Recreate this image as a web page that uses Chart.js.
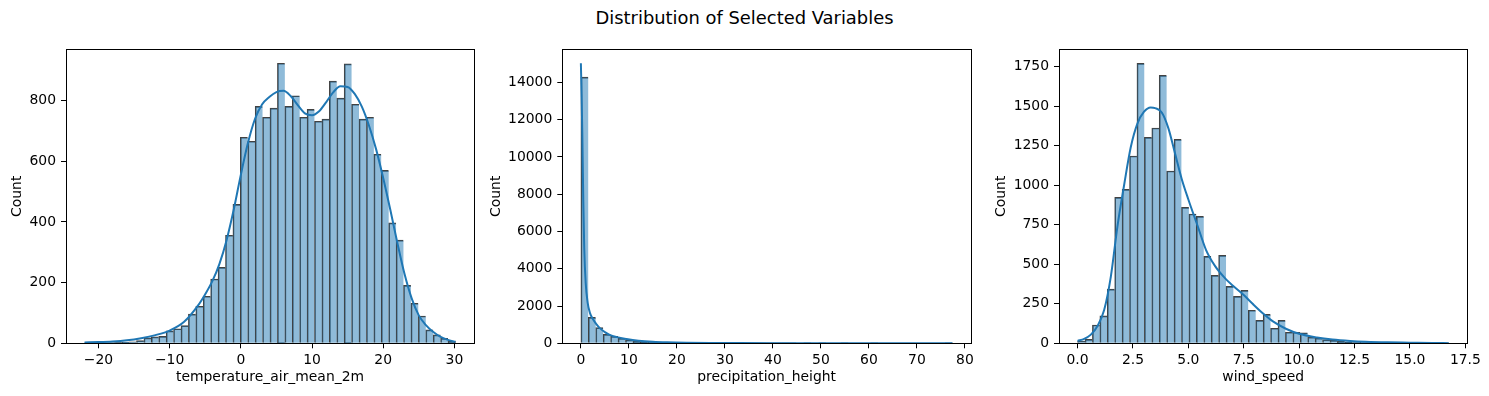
<!DOCTYPE html>
<html><head><meta charset="utf-8">
<script src="https://cdn.jsdelivr.net/npm/chart.js@4.4.1/dist/chart.umd.min.js"></script>
<style>
html,body{margin:0;padding:0;background:#fff;}
body{width:1489px;height:396px;position:relative;overflow:hidden;font-family:"DejaVu Sans",sans-serif;}
canvas{position:absolute;top:0;}
#title{position:absolute;left:0;width:1489px;text-align:center;top:9px;font-size:17.9px;line-height:18px;color:#000;white-space:nowrap;}
</style></head><body>
<div id="title">Distribution of Selected Variables</div>
<canvas id="c1" width="490" height="396" style="left:0px"></canvas>
<canvas id="c2" width="500" height="396" style="left:485px"></canvas>
<canvas id="c3" width="504" height="396" style="left:985px"></canvas>
<script>
// ---------- Panel 1: temperature_air_mean_2m ----------
const tempBinStart = -21.95;
const tempBinWidth = 1.042;
const tempCounts = [1,1,1,2,3,4,5,9,18,21,23,41,48,58,96,122,155,212,250,356,
  458,679,666,781,745,775,923,781,816,745,771,732,739,864,808,921,788,739,745,623,
  570,397,340,191,132,90,44,28,16,7];
const tempKdeX = [-21.95,-20,-18,-16,-14,-12,-10,-8,-6,-5,-4,-3,-2,-1,0,1,2,3,4,5,6,7,8,9,10,11,12,13,14,15,16,17,18,19,20,21,22,23,24,25,26,27,28,29,30.15];
const tempKdeY = [3,4,6,10,17,27,42,70,125,162,205,262,340,440,555,660,740,788,812,828,832,815,785,758,752,765,795,828,847,845,822,780,718,640,545,440,330,228,148,92,60,38,22,12,5];
const tempXTicks = [-20,-10,0,10,20,30];
const tempXTickLabels = ['\u221220','\u221210','0','10','20','30'];
const tempYTicks = [0,200,400,600,800];
const tempYTickLabels = ['0','200','400','600','800'];

// ---------- Panel 2: precipitation_height ----------
const precBinStart = 0;
const precBinWidth = 1.548;
const precCounts = [14290,1393,840,482,375,268,178,125,90,70,52,40,30,24,18,14,11,9,7,6,
  5,4,3,3,2,2,1,1,1,0,1,0,1,0,0,1,0,0,0,1,0,0,0,0,0,0,0,0,0,1];
const precKdeX = [0,0.15,0.3,0.5,0.7,1.0,1.4,1.9,2.6,3.3,4.0,5.0,6.0,7.5,9.5,12,15,18,22,27,33,40,50,60,70,77.4];
const precKdeY = [15030,13300,11200,7700,5100,3250,2200,1620,1260,1000,800,600,450,330,230,140,80,50,30,18,11,7,4,3,2,1];
const precXTicks = [0,10,20,30,40,50,60,70,80];
const precXTickLabels = ['0','10','20','30','40','50','60','70','80'];
const precYTicks = [0,2000,4000,6000,8000,10000,12000,14000];
const precYTickLabels = ['0','2000','4000','6000','8000','10000','12000','14000'];

// ---------- Panel 3: wind_speed ----------
const windBinStart = 0;
const windBinWidth = 0.335;
const windCounts = [14,25,116,173,343,923,974,1185,1771,1303,1362,1695,1090,1290,860,818,803,550,430,556,
  360,297,335,209,145,183,95,145,70,70,67,38,32,23,19,13,10,8,6,5,
  4,3,2,2,1,1,1,0,1,1];
const windKdeX = [0,0.3,0.6,0.9,1.2,1.5,1.8,2.1,2.4,2.7,3.0,3.3,3.5,3.8,4.1,4.4,4.7,5.0,5.4,5.8,6.2,6.6,7.0,7.5,7.9,8.4,8.8,9.4,10.0,10.8,11.5,12.3,13,14,15,16,16.75];
const windKdeY = [15,28,55,110,210,420,740,1000,1240,1390,1465,1492,1488,1460,1360,1200,1040,910,750,590,490,420,365,305,250,185,140,92,60,37,24,15,10,6,4,2,1];
const windXTicks = [0,2.5,5,7.5,10,12.5,15,17.5];
const windXTickLabels = ['0.0','2.5','5.0','7.5','10.0','12.5','15.0','17.5'];
const windYTicks = [0,250,500,750,1000,1250,1500,1750];
const windYTickLabels = ['0','250','500','750','1000','1250','1500','1750'];

// ---------- drawing ----------
Chart.defaults.font.family = '"DejaVu Sans", sans-serif';
const FONT = {family:'"DejaVu Sans", sans-serif', size:13.9, lineHeight:1.2};
const CANVAS_H = 396;
const AXIS_BOTTOM = 343.3;
const AXIS_TOP = 49.3;

const framePlugin = {
  id:'frame',
  afterDatasetsDraw(chart){
    const {ctx, chartArea:a} = chart;
    ctx.save();
    ctx.strokeStyle = '#000';
    ctx.lineWidth = 1;
    const l = Math.floor(a.left)+0.5, t = Math.floor(a.top)+0.5;
    const r = Math.floor(a.right)+0.5, b = Math.floor(a.bottom)+0.5;
    ctx.strokeRect(l, t, r-l, b-t);
    ctx.restore();
  }
};

function binCenters(start, width, n){
  const out = [];
  for (let i = 0; i < n; i++) out.push(start + width*(i+0.5));
  return out;
}

function histChart(id, p){
  const n = p.counts.length;
  const centers = binCenters(p.binStart, p.binWidth, n);
  const barData = centers.map((x,i)=>({x, y:p.counts[i]}));
  const lineData = p.kdeX.map((x,i)=>({x, y:p.kdeY[i]}));
  const xMin = p.binStart - 0.05*n*p.binWidth;
  const xMax = p.binStart + 1.05*n*p.binWidth;
  const grid = {display:true, drawOnChartArea:false, drawTicks:true, tickLength:5, tickWidth:1, tickColor:'#000', color:'#000', offset:false};
  return new Chart(document.getElementById(id), {
    type:'bar',
    data:{datasets:[
      {type:'line', data:lineData, borderColor:'#1f77b4', borderWidth:2, pointRadius:0, pointHoverRadius:0,
       cubicInterpolationMode:'monotone', fill:false, order:0},
      {type:'bar', data:barData, backgroundColor:'rgba(31,119,180,0.5)', borderColor:'rgba(45,45,45,0.9)',
       borderWidth: ctx => ({left:1, top:1, right: ctx.dataIndex === n-1 ? 1 : 0, bottom:0}),
       borderSkipped:false, barPercentage:1, categoryPercentage:1, grouped:false, order:1}
    ]},
    options:{
      responsive:false, animation:false, devicePixelRatio:1,
      layout:{padding:{left:0, top:AXIS_TOP, right:p.padRight, bottom:0}},
      plugins:{legend:{display:false}, tooltip:{enabled:false}, title:{display:false}},
      scales:{
        x:{type:'linear', min:xMin, max:xMax, offset:false,
          afterBuildTicks: s => { s.ticks = p.xTicks.map(v=>({value:v})); },
          afterFit: s => { s.height = CANVAS_H - AXIS_BOTTOM; },
          grid, border:{display:false},
          ticks:{color:'#000', font:FONT, padding:4, maxRotation:0, minRotation:0, autoSkip:false,
            callback:(v,i)=>p.xTickLabels[i]},
          title:{display:true, text:p.xTitle, color:'#000', font:FONT, padding:{top:0, bottom:10}}
        },
        y:{type:'linear', min:0, max:p.yMax,
          afterBuildTicks: s => { s.ticks = p.yTicks.map(v=>({value:v})); },
          afterFit: s => { s.width = p.yAxisW; },
          grid, border:{display:false},
          ticks:{color:'#000', font:FONT, padding:5, autoSkip:false,
            callback:(v,i)=>p.yTickLabels[i]},
          title:{display:true, text:'Count', color:'#000', font:FONT, padding:{top:p.yTitlePad, bottom:0}}
        }
      }
    },
    plugins:[framePlugin]
  });
}

histChart('c1', {binStart:tempBinStart, binWidth:tempBinWidth, counts:tempCounts, kdeX:tempKdeX, kdeY:tempKdeY,
  xTicks:tempXTicks, xTickLabels:tempXTickLabels, yTicks:tempYTicks, yTickLabels:tempYTickLabels,
  yMax:969, xTitle:'temperature_air_mean_2m', yAxisW:66, padRight:16, yTitlePad:9.5});
histChart('c2', {binStart:precBinStart, binWidth:precBinWidth, counts:precCounts, kdeX:precKdeX, kdeY:precKdeY,
  xTicks:precXTicks, xTickLabels:precXTickLabels, yTicks:precYTicks, yTickLabels:precYTickLabels,
  yMax:15780, xTitle:'precipitation_height', yAxisW:77.3, padRight:14, yTitlePad:2.9});
histChart('c3', {binStart:windBinStart, binWidth:windBinWidth, counts:windCounts, kdeX:windKdeX, kdeY:windKdeY,
  xTicks:windXTicks, xTickLabels:windXTickLabels, yTicks:windYTicks, yTickLabels:windYTickLabels,
  yMax:1860, xTitle:'wind_speed', yAxisW:74, padRight:21.7, yTitlePad:7.6});
</script>
</body></html>
